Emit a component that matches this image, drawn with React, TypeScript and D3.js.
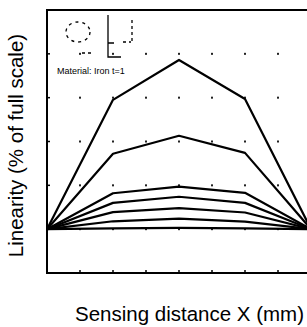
import React from "react";
import { scaleLinear, line, range } from "d3";

// sensing distance grid positions (x in divisions) and linearity curves
const distances = [0, 2, 4, 6, 8];
const curveA = [0, 2.95, 3.86, 2.97, 0];
const curveB = [0, 1.72, 2.13, 1.74, 0];
const curveC = [0, 0.82, 0.97, 0.83, 0];
const curveD = [0, 0.6, 0.74, 0.6, 0];
const curveE = [0, 0.39, 0.48, 0.38, 0];
const curveF = [0, 0.18, 0.24, 0.17, 0];
const curveG = [0, 0.02, 0.03, 0.02, 0];
const curves = [curveA, curveB, curveC, curveD, curveE, curveF, curveG];

const xTicks = range(0, 9);
const yTicks = range(-1, 6);

const W = 307;
const H = 327;
const left = 47;
const right = 311;
const top = 10;
const bottom = 273;

export default function App() {
  const x = scaleLinear().domain([0, 8]).range([left, right]);
  const y = scaleLinear().domain([-1, 5]).range([bottom, top]);
  const path = line<number>()
    .x((d, i) => x(distances[i]))
    .y((d) => y(d));

  return (
    <svg
      width={W}
      height={H}
      style={{ position: "absolute", left: 0, top: 0, background: "#fff" }}
      fontFamily="Liberation Sans, Arial, sans-serif"
    >
      {/* grid dots */}
      <g fill="#222">
        {xTicks.slice(1).map((t) =>
          yTicks.slice(1).map((v) => (
            <rect key={t + "_" + v} x={x(t) - 1} y={y(v) - 1} width={2} height={2} />
          ))
        )}
      </g>
      {/* ticks */}
      <g stroke="#000" strokeWidth={1.5}>
        {xTicks.map((t) => (
          <line key={"xt" + t} x1={x(t)} x2={x(t)} y1={bottom} y2={bottom - 3} />
        ))}
        {yTicks.map((v) => (
          <line key={"yt" + v} x1={left} x2={left + 3} y1={y(v)} y2={y(v)} />
        ))}
      </g>
      {/* frame */}
      <path
        d={`M${right},${top}H${left}V${bottom}H${right}`}
        fill="none"
        stroke="#000"
        strokeWidth={2}
      />
      {/* curves */}
      <g fill="none" stroke="#000" strokeWidth={2.2} strokeLinejoin="round">
        {curves.map((c, i) => (
          <path key={i} d={path(c) || ""} />
        ))}
      </g>
      {/* small sensor sketch */}
      <g fill="none" stroke="#000" strokeWidth={1.3}>
        <ellipse cx={78} cy={32} rx={12} ry={10} strokeDasharray="3 4" />
        <path d="M108,15V43H114M108,43V57H121" />
        <path d="M123,42H131M132,20V42" strokeDasharray="3 3" />
        <path d="M82,53H92" strokeDasharray="3 3" />
      </g>
      <text x={57} y={74} fontSize={9} fill="#000">
        Material: Iron t=1
      </text>
      <text
        transform={`translate(23,${(top + bottom) / 2 + 4}) rotate(-90)`}
        textAnchor="middle"
        fontSize={20.5}
        fill="#000"
      >
        Linearity (% of full scale)
      </text>
      <text x={75} y={321} fontSize={20.5} fill="#000">
        Sensing distance X (mm)
      </text>
    </svg>
  );
}
